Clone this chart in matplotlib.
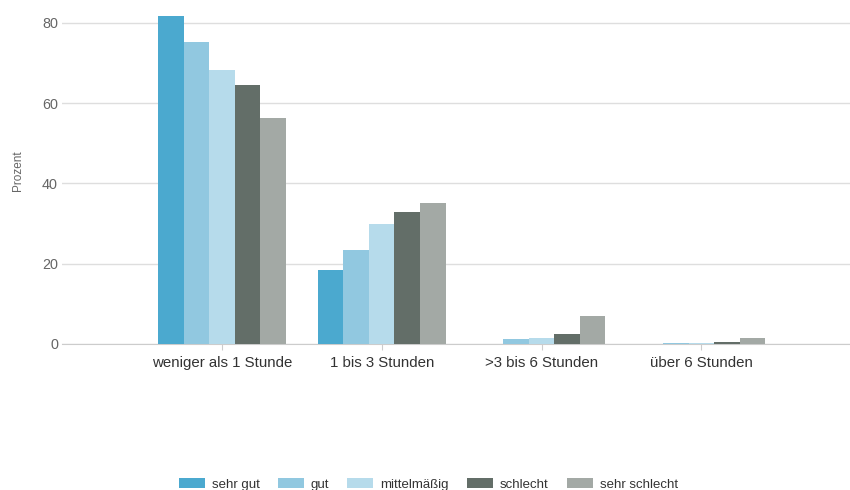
import numpy as np
import matplotlib
matplotlib.use("Agg")
from matplotlib import pyplot as plt

plt.rcParams['font.family'] = ['Liberation Sans', 'DejaVu Sans']

kategorien = ["weniger als 1 Stunde", "1 bis 3 Stunden", ">3 bis 6 Stunden", "über 6 Stunden"]
gruppen = ["sehr gut", "gut", "mittelmäßig", "schlecht", "sehr schlecht"]
sehr_gut = [81.8, 18.4, 0.0, 0.0]
gut = [75.3, 23.3, 1.2, 0.2]
mittel = [68.2, 30.0, 1.4, 0.2]
schlecht = [64.5, 32.8, 2.4, 0.4]
sehr_schlecht = [56.2, 35.1, 7.0, 1.5]
farben = ["#4ba9cf", "#91c8e0", "#b6dbeb", "#636e68", "#a3a9a5"]

werte = [sehr_gut, gut, mittel, schlecht, sehr_schlecht]

fig = plt.figure(figsize=(8.5, 4.9), dpi=100)
ax = fig.add_axes([0.073, 0.298, 0.927, 0.688])

x = np.arange(len(kategorien))
breite = 0.16
for i, (name, w) in enumerate(zip(gruppen, werte)):
    ax.bar(x + (i - 2) * breite, w, breite, color=farben[i], label=name, zorder=3)

ax.set_xlim(-1, 3.93)
ax.set_ylim(0, 84)
ax.set_yticks([0, 20, 40, 60, 80])
ax.yaxis.grid(True, color="#dedede", linewidth=1, zorder=0)
ax.set_xticks(x)
ax.set_xticklabels(kategorien, fontsize=10.8, color="#333333")
ax.tick_params(axis="x", length=4, color="#cccccc", pad=5)
ax.tick_params(axis="y", length=0, labelsize=10.4, labelcolor="#666666", pad=3)
ax.set_ylabel("Prozent", fontsize=8.5, color="#666666")
ax.yaxis.set_label_coords(-0.048, 0.513)

for s in ["top", "right", "left"]:
    ax.spines[s].set_visible(False)
ax.spines["bottom"].set_color("#cccccc")

fig.legend(loc="center", bbox_to_anchor=(0.504, 0.011), ncol=5, frameon=False,
           fontsize=9.5, handlelength=1.97, handleheight=0.75, handletextpad=0.53,
           columnspacing=1.36, labelcolor="#333333")

plt.savefig("out.png", dpi=100)
